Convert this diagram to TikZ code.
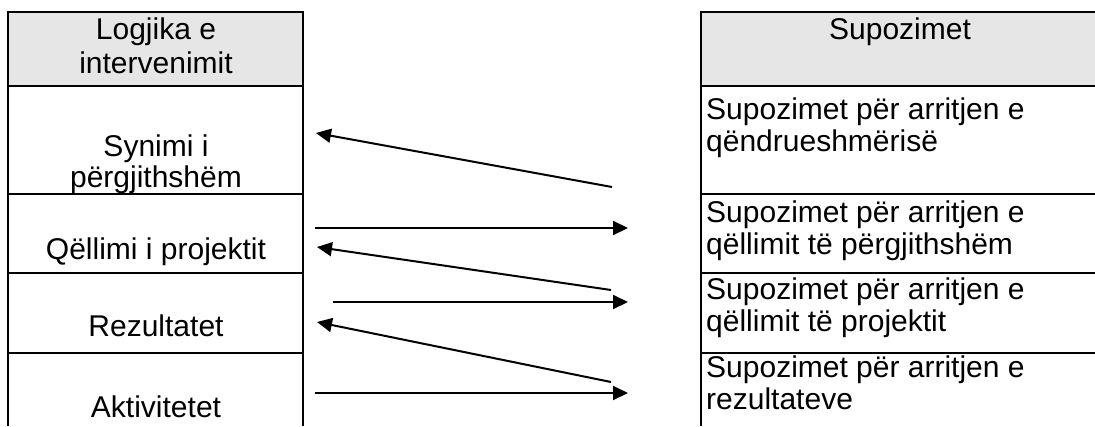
\documentclass[tikz,border=0pt]{standalone}
\usepackage{fontspec}
\setmainfont{Liberation Sans}
\usetikzlibrary{arrows.meta}
\definecolor{hdr}{RGB}{230,230,230}
\tikzset{
  grid/.style={line width=2pt,black},
  txt/.style={inner sep=0pt,font=\fontsize{30}{32}\selectfont},
  ctext/.style={txt,anchor=base},
  ltext/.style={txt,anchor=base west},
  arr/.style={line width=2pt,-{Triangle[length=15pt,width=14pt]}}
}
\begin{document}
\begin{tikzpicture}[x=1pt,y=-1pt]
\useasboundingbox (0,0) rectangle (1095,426);
% header fills
\fill[hdr] (8,12) rectangle (303,86);
\fill[hdr] (701,12) rectangle (1095,86);
% left table
\draw[grid] (8,426) -- (8,12) -- (303,12) -- (303,426);
\foreach \y in {86,194,273,353} \draw[grid] (8,\y) -- (303,\y);
% right table
\draw[grid] (701,426) -- (701,12) -- (1095,12);
\foreach \y in {86,194,273,353} \draw[grid] (701,\y) -- (1095,\y);
% left texts
\node[ctext] (l1a) at (156,39) {Logjika e};
\node[ctext] (l1b) at (156,73) {intervenimit};
\node[ctext] (l2a) at (156,156) {Synimi i};
\node[ctext] (l2b) at (156,187) {përgjithshëm};
\node[ctext] (l3) at (156,259) {Qëllimi i projektit};
\node[ctext] (l4) at (156,336) {Rezultatet};
\node[ctext] (l5) at (156,417) {Aktivitetet};
% right texts
\node[ctext] (r1) at (900,39) {Supozimet};
\node[ltext] (r2a) at (706,119) {Supozimet për arritjen e};
\node[ltext] (r2b) at (706,151) {qëndrueshmërisë};
\node[ltext] (r3a) at (706,222) {Supozimet për arritjen e};
\node[ltext] (r3b) at (706,254) {qëllimit të përgjithshëm};
\node[ltext] (r4a) at (706,299) {Supozimet për arritjen e};
\node[ltext] (r4b) at (706,331) {qëllimit të projektit};
\node[ltext] (r5a) at (706,377) {Supozimet për arritjen e};
\node[ltext] (r5b) at (706,409) {rezultateve};
% arrow end points
\coordinate (a1s) at (612,187); \coordinate (a1e) at (316,133);
\coordinate (a2s) at (315,228); \coordinate (a2e) at (628,228);
\coordinate (a3s) at (611,290); \coordinate (a3e) at (317,247);
\coordinate (a4s) at (333,302); \coordinate (a4e) at (628,302);
\coordinate (a5s) at (611,382); \coordinate (a5e) at (317,322);
\coordinate (a6s) at (315,393); \coordinate (a6e) at (628,393);
\draw[arr] (a1s) -- (a1e);
\draw[arr] (a2s) -- (a2e);
\draw[arr] (a3s) -- (a3e);
\draw[arr] (a4s) -- (a4e);
\draw[arr] (a5s) -- (a5e);
\draw[arr] (a6s) -- (a6e);
\end{tikzpicture}
\end{document}
